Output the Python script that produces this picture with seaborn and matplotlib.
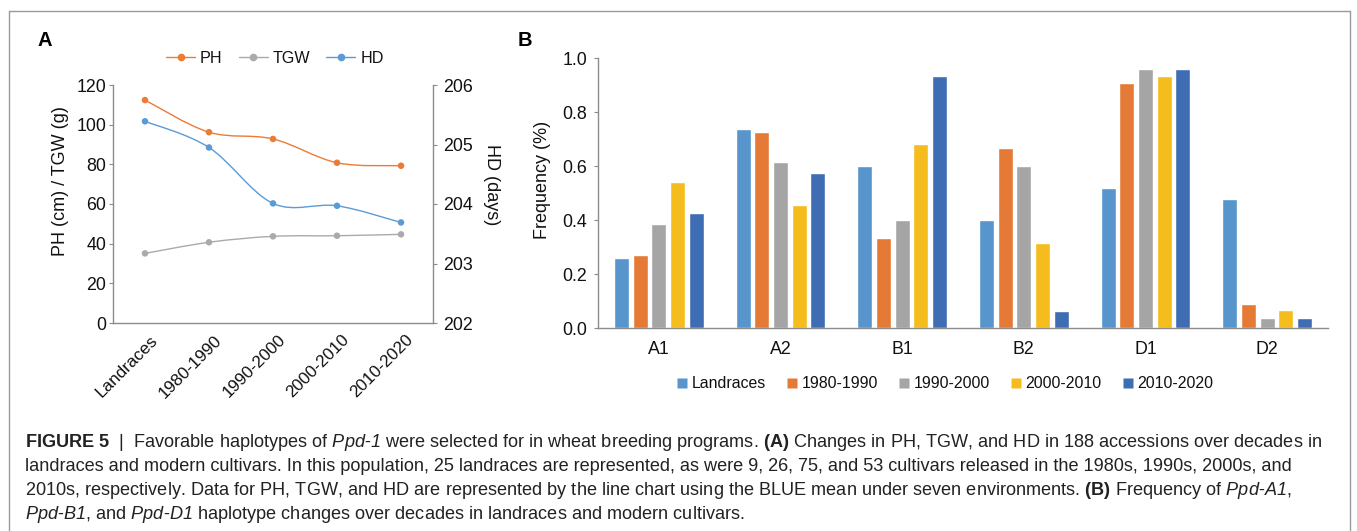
import numpy as np
import pandas as pd
import matplotlib
matplotlib.use("Agg")
import matplotlib.pyplot as plt
import matplotlib.transforms as mtransforms
from matplotlib.path import Path
from matplotlib.patches import PathPatch
from matplotlib.lines import Line2D
import seaborn as sns

# ---------------- data ----------------
periods = ["Landraces", "1980-1990", "1990-2000", "2000-2010", "2010-2020"]
ph = [112.4, 96.2, 92.8, 80.8, 79.3]
tgw = [35.1, 40.7, 43.7, 44.0, 44.7]
hd = [205.39, 204.95, 204.01, 203.97, 203.69]

alleles = ["A1", "A2", "B1", "B2", "D1", "D2"]
freq_landraces = [0.261, 0.739, 0.600, 0.400, 0.520, 0.480]
freq_1980 = [0.273, 0.727, 0.333, 0.667, 0.909, 0.091]
freq_1990 = [0.385, 0.615, 0.400, 0.600, 0.962, 0.038]
freq_2000 = [0.542, 0.458, 0.684, 0.316, 0.934, 0.066]
freq_2010 = [0.426, 0.574, 0.936, 0.064, 0.962, 0.038]

line_colors = {"PH": "#EB7B35", "TGW": "#AAAAAA", "HD": "#5B9BD5"}
bar_colors = ["#5795CC", "#E47A35", "#A5A5A5", "#F4BC1C", "#3F6DB4"]

# ---------------- style ----------------
sns.set_theme(style="white")
plt.rcParams["font.family"] = ["Liberation Sans", "DejaVu Sans"]
plt.rcParams["mathtext.fontset"] = "custom"
plt.rcParams["mathtext.rm"] = "Liberation Sans"
plt.rcParams["mathtext.it"] = "Liberation Sans:italic"
plt.rcParams["mathtext.sf"] = "Liberation Sans:italic"
plt.rcParams["mathtext.bf"] = "Liberation Sans:bold"

SPINE = "#8C8C8C"
TXT = "#111111"
TICK_FS = 12.8

W, H = 1357, 531
fig = plt.figure(figsize=(W / 100, H / 100), dpi=100, facecolor="white")


def rect(l, t, r, b):
    return [l / W, 1 - b / H, (r - l) / W, (b - t) / H]


def smooth_path(xs, ys):
    pts = np.column_stack([xs, ys]).astype(float)
    n = len(pts)
    verts = [pts[0]]
    codes = [Path.MOVETO]
    for i in range(n - 1):
        p0 = pts[max(i - 1, 0)]
        p1 = pts[i]
        p2 = pts[i + 1]
        p3 = pts[min(i + 2, n - 1)]
        verts += [p1 + (p2 - p0) / 6, p2 - (p3 - p1) / 6, p2]
        codes += [Path.CURVE4] * 3
    return Path(verts, codes)


# ---------------- panel A ----------------
df_a = pd.DataFrame({"period": periods, "PH": ph, "TGW": tgw, "HD": hd})
df_a["pos"] = np.arange(len(periods))

axA = fig.add_axes(rect(113, 85, 433, 323))
axH = axA.twinx()

for name in ["PH", "TGW"]:
    axA.add_patch(PathPatch(smooth_path(df_a["pos"], df_a[name]), fc="none",
                            ec=line_colors[name], lw=1.0, zorder=2))
    sns.scatterplot(data=df_a, x="pos", y=name, color=line_colors[name], s=22,
                    edgecolor="none", ax=axA, legend=False, zorder=3)
axH.add_patch(PathPatch(smooth_path(df_a["pos"], df_a["HD"]), fc="none",
                        ec=line_colors["HD"], lw=1.0, zorder=2))
sns.scatterplot(data=df_a, x="pos", y="HD", color=line_colors["HD"], s=22,
                edgecolor="none", ax=axH, legend=False, zorder=3)

axA.set_xlim(-0.5, len(periods) - 0.5)
axA.set_ylim(0, 120)
axA.set_yticks(np.arange(0, 121, 20))
axH.set_ylim(202, 206)
axH.set_yticks(np.arange(202, 207, 1))
axA.set_xlabel("")
axA.set_ylabel("")
axH.set_ylabel("")

axA.set_xticks(np.arange(-0.5, len(periods), 1))
axA.set_xticklabels([])
axA.set_xticks(df_a["pos"], minor=True)
axA.set_xticklabels(periods, minor=True, rotation=45, ha="right", va="center",
                    rotation_mode="anchor", fontsize=12.3, color=TXT)
axA.tick_params(axis="x", which="minor", length=0, pad=10.5)
axA.tick_params(axis="x", which="major", length=3, width=0.8, color=SPINE, direction="out")
axA.tick_params(axis="y", length=3, width=0.8, color=SPINE, pad=2, labelsize=TICK_FS,
                labelcolor=TXT, direction="out", left=True)
axH.tick_params(axis="y", length=3, width=0.8, color=SPINE, pad=4, labelsize=TICK_FS,
                labelcolor=TXT, direction="out", right=True)
off = mtransforms.ScaledTranslation(0.10, 0, fig.dpi_scale_trans)
for lbl in axA.get_xticklabels(minor=True):
    lbl.set_transform(lbl.get_transform() + off)

for s in ["top", "right"]:
    axA.spines[s].set_visible(False)
for s in ["top", "left", "bottom"]:
    axH.spines[s].set_visible(False)
for ax_, sides in [(axA, ["left", "bottom"]), (axH, ["right"])]:
    for s in sides:
        ax_.spines[s].set_color(SPINE)
        ax_.spines[s].set_linewidth(1.0)
axA.grid(False)
axH.grid(False)

axA.text(-0.1625, 0.597, "PH (cm) / TGW (g)", transform=axA.transAxes, rotation=90,
         ha="center", va="center", fontsize=13, color=TXT)
axH.text(1.184, 0.58, "HD (days)", transform=axH.transAxes, rotation=270,
         ha="center", va="center", fontsize=13, color=TXT)

hA = [Line2D([], [], color=line_colors[n], marker="o", markersize=5.5, lw=1.0,
             markeredgecolor="none") for n in ["PH", "TGW", "HD"]]
axA.legend(hA, ["PH", "TGW", "HD"], loc="center", bbox_to_anchor=(0.506, 1.113),
           ncol=3, frameon=False, handlelength=1.8, handletextpad=0.3,
           columnspacing=1.0, fontsize=11.6, labelcolor=TXT)

# ---------------- panel B ----------------
series = [freq_landraces, freq_1980, freq_1990, freq_2000, freq_2010]
rows = [(a, p, v) for p, vals in zip(periods, series) for a, v in zip(alleles, vals)]
df_b = pd.DataFrame(rows, columns=["allele", "period", "freq"])

axB = fig.add_axes(rect(598, 58.3, 1328, 328.3))
sns.barplot(data=df_b, x="allele", y="freq", hue="period", order=alleles,
            hue_order=periods, palette=bar_colors, width=0.77, gap=0.2,
            saturation=1, errorbar=None, legend=False, ax=axB)
axB.set_xlim(-0.5, len(alleles) - 0.5)
axB.set_ylim(0, 1.0)
axB.set_yticks(np.arange(0, 1.01, 0.2))
axB.set_yticklabels([f"{v:.1f}" for v in np.arange(0, 1.01, 0.2)])
axB.set_xlabel("")
axB.set_ylabel("")
axB.set_xticks(np.arange(-0.5, len(alleles), 1))
axB.set_xticklabels([])
axB.set_xticks(np.arange(len(alleles)), minor=True)
axB.set_xticklabels(alleles, minor=True, fontsize=TICK_FS, color=TXT)
axB.tick_params(axis="x", which="minor", length=0, pad=9.5)
axB.tick_params(axis="x", which="major", length=3, width=0.8, color=SPINE, direction="out")
axB.tick_params(axis="y", length=3, width=0.8, color=SPINE, pad=5, labelsize=TICK_FS,
                labelcolor=TXT, direction="out", left=True)
for s in ["top", "right"]:
    axB.spines[s].set_visible(False)
for s in ["left", "bottom"]:
    axB.spines[s].set_color(SPINE)
    axB.spines[s].set_linewidth(1.0)
axB.grid(False)
axB.text(-0.0767, 0.549, "Frequency (%)", transform=axB.transAxes, rotation=90,
         ha="center", va="center", fontsize=13, color=TXT)

hB = [Line2D([], [], marker="s", linestyle="none", markersize=6.5,
             markerfacecolor=c, markeredgecolor="none") for c in bar_colors]
axB.legend(hB, periods, loc="center", bbox_to_anchor=(0.475, -0.206), ncol=5,
           frameon=False, handlelength=0.7, handletextpad=0.25, columnspacing=1.3,
           fontsize=11.4, labelcolor=TXT)

# ---------------- panel letters ----------------
fig.text(45 / W, 1 - 40.7 / H, "A", fontweight="bold", fontsize=14.5, ha="center",
         va="center", color="black")
fig.text(525 / W, 1 - 40.7 / H, "B", fontweight="bold", fontsize=14.5, ha="center",
         va="center", color="black")

# ---------------- frame ----------------
FR = "#9A9A9A"
for xs, ys in [([9, 9], [11, 531]), ([9, 1350], [11, 11]), ([1350, 1350], [11, 531])]:
    fig.add_artist(Line2D([x / W for x in xs], [1 - y / H for y in ys],
                          transform=fig.transFigure, color=FR, lw=1.0))

# ---------------- caption ----------------
cap_lines = [
    r"$\mathbf{FIGURE\ 5}$  |  Favorable haplotypes of $\mathsf{Ppd}$-$\mathsf{1}$ were selected for in wheat breeding programs. $\mathbf{(A)}$ Changes in PH, TGW, and HD in 188 accessions over decades in",
    r"landraces and modern cultivars. In this population, 25 landraces are represented, as were 9, 26, 75, and 53 cultivars released in the 1980s, 1990s, 2000s, and",
    r"2010s, respectively. Data for PH, TGW, and HD are represented by the line chart using the BLUE mean under seven environments. $\mathbf{(B)}$ Frequency of $\mathsf{Ppd}$-$\mathsf{A1}$,",
    r"$\mathsf{Ppd}$-$\mathsf{B1}$, and $\mathsf{Ppd}$-$\mathsf{D1}$ haplotype changes over decades in landraces and modern cultivars.",
]
for i, line in enumerate(cap_lines):
    fig.text(25 / W, 1 - (447 + 24 * i) / H, line, fontsize=13.05, color="#222222",
             ha="left", va="baseline")

fig.savefig("out.png", dpi=100, facecolor="white")
